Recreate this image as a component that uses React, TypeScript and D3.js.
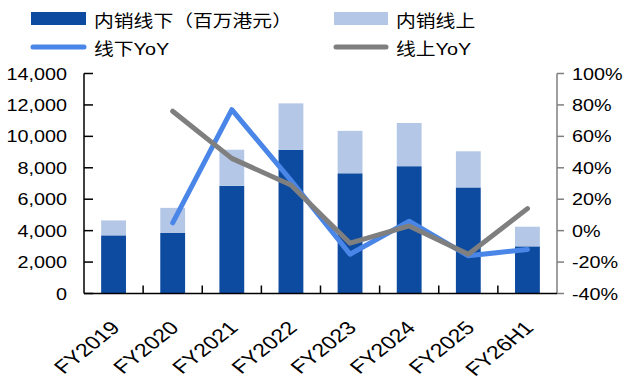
import React from "react";
import * as d3 from "d3";

// Domestic sales: offline vs online (HK$ mn) with YoY growth
const categories = ["FY2019", "FY2020", "FY2021", "FY2022", "FY2023", "FY2024", "FY2025", "FY26H1"];
const offlineSales = [3700, 3850, 6850, 9150, 7650, 8100, 6750, 3000];
const onlineSales = [950, 1600, 2300, 2950, 2700, 2750, 2300, 1250];
const offlineYoY: (number | null)[] = [null, 5, 77, 32, -15, 6, -16, -12];
const onlineYoY: (number | null)[] = [null, 76, 46, 29, -8, 3, -15, 14];
const leftTicks = [0, 2000, 4000, 6000, 8000, 10000, 12000, 14000];
const rightTicks = [-40, -20, 0, 20, 40, 60, 80, 100];

const W = 627;
const H = 387;
const left = 84;
const right = 557;
const top = 73.5;
const bottom = 293.5;

const C_DARK = "#0D4BA0";
const C_LIGHT = "#B4C7E7";
const C_BLUE = "#4A86E8";
const C_GRAY = "#7F7F7F";
const FONT = "'Liberation Sans', Arial, 'Noto Sans CJK SC', sans-serif";
const SX = 1.2;

function T(props: {
  x: number;
  y: number;
  anchor?: "start" | "middle" | "end";
  size?: number;
  rotate?: number;
  sx?: number;
  fill?: string;
  children: React.ReactNode;
}) {
  const { x, y, anchor = "start", size = 16.5, rotate = 0, sx = SX, fill = "#000", children } = props;
  return (
    <text
      transform={`translate(${x},${y}) scale(${sx},1)${rotate ? ` rotate(${rotate})` : ""}`}
      textAnchor={anchor}
      fontSize={size}
      fontFamily={FONT}
      fill={fill}
    >
      {children}
    </text>
  );
}

export default function App() {
  const x = d3.scaleBand<string>().domain(categories).range([left, right]).paddingInner(0.58).paddingOuter(0.29);
  const step = x.step();
  const cx = (c: string) => (x(c) as number) + x.bandwidth() / 2;
  const yL = d3.scaleLinear().domain([0, 14000]).range([bottom, top]);
  const yR = d3.scaleLinear().domain([-40, 100]).range([bottom, top]);

  const line = d3
    .line<number | null>()
    .defined((d) => d !== null)
    .x((_, i) => cx(categories[i]))
    .y((d) => yR(d as number));

  const fmt = d3.format(",");

  return (
    <svg
      width={W}
      height={H}
      style={{ position: "absolute", left: 0, top: 0, background: "#fff" }}
    >
      {/* Legend */}
      <rect x={31} y={12} width={55} height={13} fill={C_DARK} />
      <T x={94} y={27}>内销线下（百万港元）</T>
      <rect x={334} y={12} width={54} height={13} fill={C_LIGHT} />
      <T x={396} y={27}>内销线上</T>
      <line x1={33} x2={84} y1={47} y2={47} stroke={C_BLUE} strokeWidth={5} strokeLinecap="round" />
      <T x={94} y={54.5}>线下YoY</T>
      <line x1={336} x2={386} y1={47} y2={47} stroke={C_GRAY} strokeWidth={5} strokeLinecap="round" />
      <T x={396} y={54.5}>线上YoY</T>

      {/* Stacked bars */}
      {categories.map((c, i) => (
        <g key={c}>
          <rect
            x={x(c)}
            width={x.bandwidth()}
            y={yL(offlineSales[i])}
            height={yL(0) - yL(offlineSales[i])}
            fill={C_DARK}
          />
          <rect
            x={x(c)}
            width={x.bandwidth()}
            y={yL(offlineSales[i] + onlineSales[i])}
            height={yL(offlineSales[i]) - yL(offlineSales[i] + onlineSales[i])}
            fill={C_LIGHT}
          />
        </g>
      ))}

      {/* Left axis */}
      <line x1={left} x2={left} y1={top} y2={bottom} stroke="#000" strokeWidth={1.5} />
      {leftTicks.map((t) => (
        <g key={t}>
          <line x1={left} x2={left + 9} y1={yL(t)} y2={yL(t)} stroke="#000" strokeWidth={1.5} />
          <T x={67} y={yL(t) + 6} anchor="end">
            {fmt(t)}
          </T>
        </g>
      ))}

      {/* Right axis */}
      <line x1={right} x2={right} y1={top} y2={bottom} stroke={C_GRAY} strokeWidth={1.5} />
      {rightTicks.map((t) => (
        <g key={t}>
          <line x1={right} x2={right + 7} y1={yR(t)} y2={yR(t)} stroke={C_GRAY} strokeWidth={1.5} />
          <T x={572} y={yR(t) + 6}>
            {`${t}%`}
          </T>
        </g>
      ))}

      {/* Category axis */}
      <line x1={left} x2={right} y1={bottom} y2={bottom} stroke="#000" strokeWidth={1.5} />
      {categories.slice(1).map((c) => (
        <line
          key={c}
          x1={(x(c) as number) - (step - x.bandwidth()) / 2}
          x2={(x(c) as number) - (step - x.bandwidth()) / 2}
          y1={bottom}
          y2={bottom - 8}
          stroke="#000"
          strokeWidth={1.5}
        />
      ))}
      {categories.map((c) => (
        <T key={c} x={cx(c) + 7.5} y={329} anchor="end" size={18.5} sx={1.25} rotate={-45}>
          {c}
        </T>
      ))}

      {/* YoY lines */}
      <path d={line(offlineYoY) || ""} fill="none" stroke={C_BLUE} strokeWidth={5} strokeLinejoin="round" strokeLinecap="round" />
      <path d={line(onlineYoY) || ""} fill="none" stroke={C_GRAY} strokeWidth={5} strokeLinejoin="round" strokeLinecap="round" />
    </svg>
  );
}
